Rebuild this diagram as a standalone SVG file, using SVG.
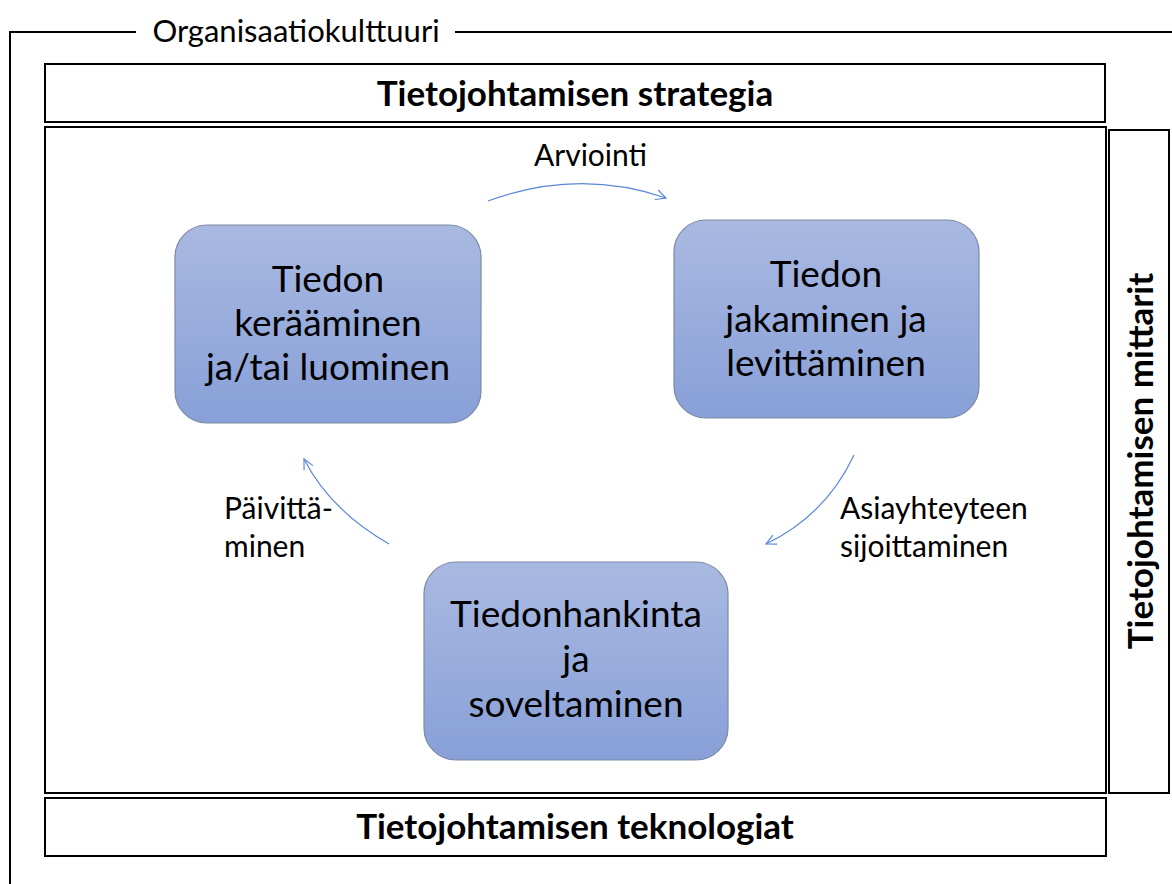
<svg xmlns="http://www.w3.org/2000/svg" width="1172" height="884" viewBox="0 0 1172 884">
<defs>
<linearGradient id="nodeFill" x1="0" y1="0" x2="0" y2="1">
<stop offset="0" stop-color="#a9b9e1"/>
<stop offset="1" stop-color="#88a0d8"/>
</linearGradient>
<marker id="arrow" viewBox="0 0 12 12" refX="11" refY="6" markerWidth="12" markerHeight="12" markerUnits="userSpaceOnUse" orient="auto">
<path d="M1,1 L11,6 L1,11" fill="none" stroke="#5b87d6" stroke-width="1.2"/>
</marker>
</defs>
<style>
.frame{fill:#fff;stroke:#000;stroke-width:2}
.node{fill:url(#nodeFill);stroke:#7d8aa6;stroke-width:1.2}
.ntext{font-family:Lato,"Liberation Sans",sans-serif;font-size:37px;fill:#000;text-anchor:middle}
.lbl{font-family:Lato,"Liberation Sans",sans-serif;font-size:30px;fill:#000}
.btitle{font-family:Lato,"Liberation Sans",sans-serif;font-size:35px;font-weight:bold;fill:#000;text-anchor:middle}
.conn{fill:none;stroke:#5b87d6;stroke-width:1.2}
</style>
<rect width="1172" height="884" fill="#fff"/>
<g id="organisaatiokulttuuri">
<path d="M10,884 L10,32 L136,32" fill="none" stroke="#000" stroke-width="2"/>
<path d="M455,32 L1172,32" fill="none" stroke="#000" stroke-width="2"/>
<text x="296" y="42" class="lbl" style="font-size:31px;text-anchor:middle">Organisaatiokulttuuri</text>
</g>
<g id="strategia">
<rect x="45" y="64" width="1060" height="58" class="frame"/>
<text x="575" y="106" class="btitle">Tietojohtamisen strategia</text>
</g>
<g id="prosessi">
<rect x="45" y="127" width="1061" height="666" class="frame"/>
</g>
<g id="mittarit">
<rect x="1109" y="130" width="60" height="663" class="frame"/>
<text transform="translate(1153,461) rotate(-90)" x="0" y="0" class="btitle">Tietojohtamisen mittarit</text>
</g>
<g id="teknologiat">
<rect x="45" y="798" width="1061" height="58" class="frame"/>
<text x="575" y="839" class="btitle">Tietojohtamisen teknologiat</text>
</g>
<g id="node-kerääminen">
<rect x="175" y="225" width="306" height="198" rx="32" class="node"/>
<text class="ntext" x="328" y="292">Tiedon</text>
<text class="ntext" x="328" y="336">kerääminen</text>
<text class="ntext" x="328" y="380">ja/tai luominen</text>
</g>
<g id="node-jakaminen">
<rect x="674" y="220" width="305" height="198" rx="32" class="node"/>
<text class="ntext" x="826" y="287">Tiedon</text>
<text class="ntext" x="826" y="332">jakaminen ja</text>
<text class="ntext" x="826" y="376">levittäminen</text>
</g>
<g id="node-hankinta">
<rect x="424" y="562" width="304" height="198" rx="32" class="node"/>
<text class="ntext" x="576" y="627">Tiedonhankinta</text>
<text class="ntext" x="576" y="672">ja</text>
<text class="ntext" x="576" y="717">soveltaminen</text>
</g>
<g id="connectors">
<path class="conn" d="M488,201 Q578,168 666,198" marker-end="url(#arrow)"/>
<path class="conn" d="M854,455 Q826,515 766,544" marker-end="url(#arrow)"/>
<path class="conn" d="M389,544 Q330,510 304,459" marker-end="url(#arrow)"/>
<text class="lbl" x="534" y="166">Arviointi</text>
<text class="lbl" x="840" y="519">Asiayhteyteen</text>
<text class="lbl" x="840" y="557">sijoittaminen</text>
<text class="lbl" x="224" y="519">Päivittä-</text>
<text class="lbl" x="224" y="557">minen</text>
</g>
</svg>
